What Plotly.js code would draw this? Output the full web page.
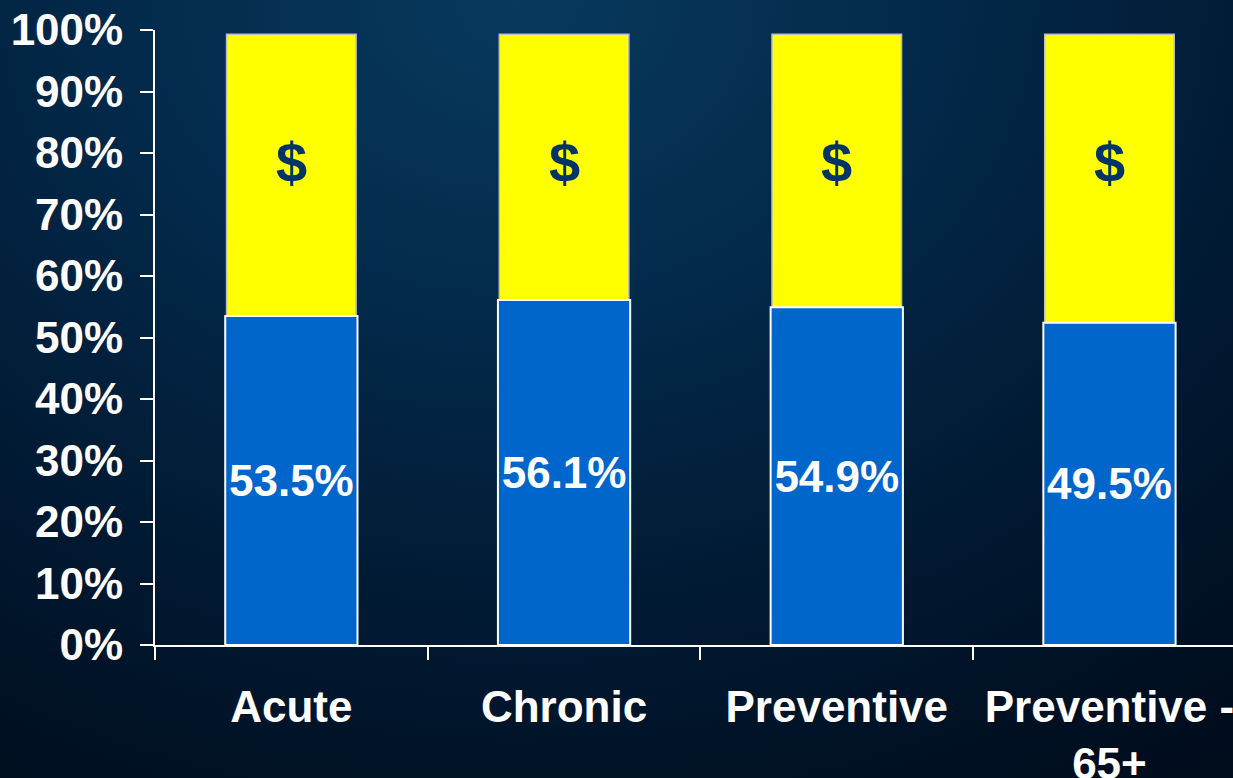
<!DOCTYPE html>
<html>
<head>
<meta charset="utf-8">
<script src="https://cdn.plot.ly/plotly-3.0.1.min.js"></script>
<style>
  html, body { margin: 0; padding: 0; width: 1233px; height: 778px; overflow: hidden; }
  body {
    background: radial-gradient(ellipse 95% 120% at 42% 0%, #073a5e 0%, #03294a 35%, #011a33 65%, #000c1c 100%);
  }
  #chart { width: 1233px; height: 778px; }
</style>
</head>
<body>
<div id="chart"></div>
<script>
const categories = ["Acute", "Chronic", "Preventive", "Preventive -<br>65+"];
const totalShare = [99.3, 99.3, 99.3, 99.3];
const blueShare = [53.5, 56.1, 54.9, 52.4];
const blueLabels = ["53.5%", "56.1%", "54.9%", "49.5%"];
const yellowLabels = ["$", "$", "$", "$"];
const yTicks = [0, 10, 20, 30, 40, 50, 60, 70, 80, 90, 100];
const yTickText = ["0%", "10%", "20%", "30%", "40%", "50%", "60%", "70%", "80%", "90%", "100%"];

const FONT = "Liberation Sans, Arial, Helvetica, sans-serif";

const yellow = {
  type: "bar",
  x: categories,
  y: totalShare,
  width: 0.475,
  marker: { color: "#FFFF00", line: { color: "#BDBDBD", width: 1.5 } },
  hoverinfo: "skip"
};

const blue = {
  type: "bar",
  x: categories,
  y: blueShare,
  width: 0.485,
  text: blueLabels,
  textposition: "inside",
  insidetextanchor: "middle",
  textangle: 0,
  constraintext: "none",
  textfont: { family: FONT, size: 44, color: "#FFFFFF", weight: "bold" },
  marker: { color: "#0066CC", line: { color: "#FFFFFF", width: 2 } },
  hoverinfo: "skip"
};

const dollarAnnotations = categories.map((c, i) => ({
  x: c, y: 78.5, xref: "x", yref: "y",
  text: yellowLabels[i], showarrow: false,
  xanchor: "center", yanchor: "middle",
  font: { family: FONT, size: 56, color: "#003366", weight: "bold" }
}));

const layout = {
  width: 1233, height: 778,
  margin: { l: 155, r: 0, t: 30, b: 133 },
  paper_bgcolor: "rgba(0,0,0,0)",
  plot_bgcolor: "rgba(0,0,0,0)",
  barmode: "overlay",
  showlegend: false,
  hovermode: false,
  xaxis: {
    type: "category",
    range: [-0.5, 3.453],
    showline: true, linecolor: "#FFFFFF", linewidth: 2,
    ticks: "outside", tickson: "boundaries", ticklen: 13, tickwidth: 2, tickcolor: "#FFFFFF",
    showgrid: false, zeroline: false,
    tickfont: { family: FONT, size: 44, color: "#FFFFFF", weight: "bold" },
    ticklabelstandoff: 22
  },
  yaxis: {
    range: [0, 100],
    tickvals: yTicks, ticktext: yTickText,
    showline: true, linecolor: "#FFFFFF", linewidth: 2,
    ticks: "outside", ticklen: 13, tickwidth: 2, tickcolor: "#FFFFFF",
    showgrid: false, zeroline: false,
    tickfont: { family: FONT, size: 44, color: "#FFFFFF", weight: "bold" },
    ticklabelstandoff: 8
  },
  annotations: dollarAnnotations
};

Plotly.newPlot("chart", [yellow, blue], layout, { staticPlot: true, displayModeBar: false });
</script>
</body>
</html>
